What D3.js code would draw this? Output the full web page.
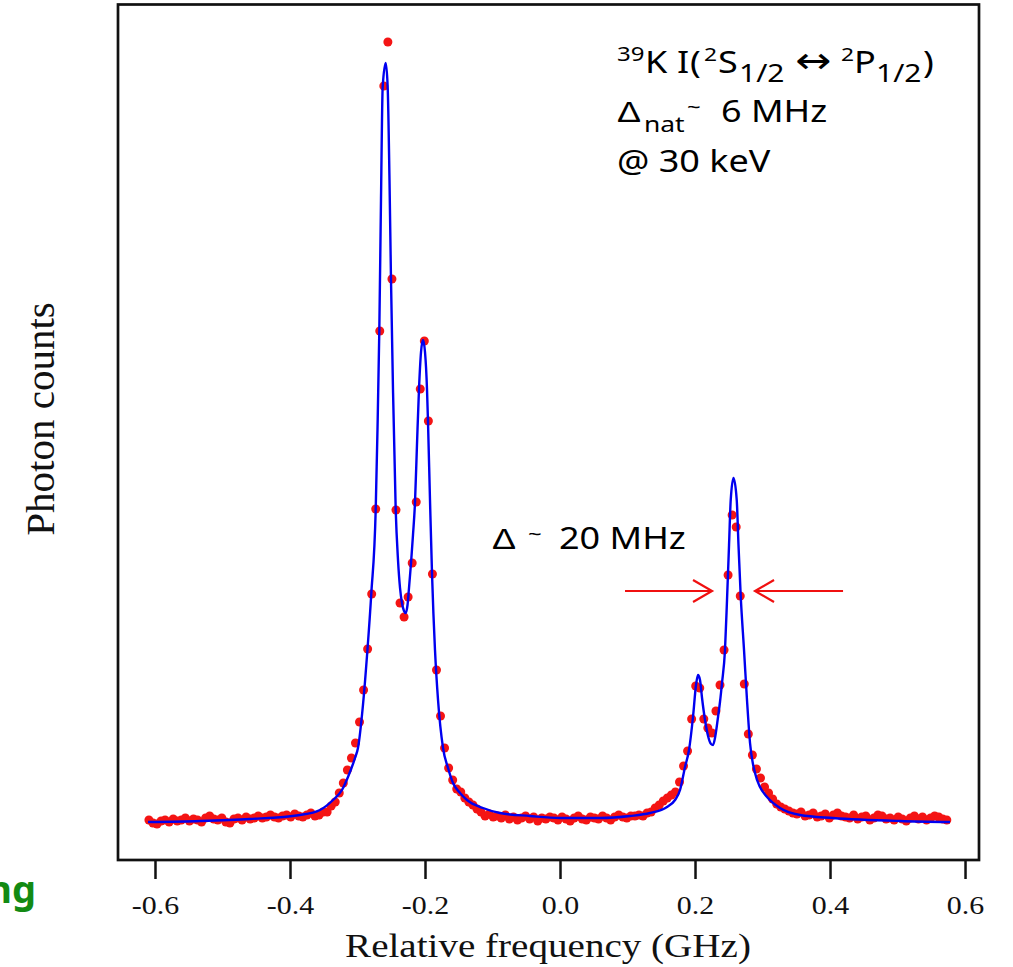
<!DOCTYPE html>
<html>
<head>
<meta charset="utf-8">
<script src="https://cdn.jsdelivr.net/npm/d3@7"></script>
<style>
body { margin: 0; background: white; }
</style>
</head>
<body>
<div id="chart"></div>
<script>
//measured points (relative frequency in GHz, photon counts)
var freq = [
  -0.609, -0.603, -0.597, -0.591, -0.585, -0.579, -0.573, -0.567, -0.561, -0.555,
  -0.549, -0.543, -0.537, -0.531, -0.525, -0.519, -0.513, -0.507, -0.501, -0.495,
  -0.489, -0.483, -0.477, -0.471, -0.465, -0.459, -0.453, -0.447, -0.441, -0.435,
  -0.429, -0.423, -0.417, -0.411, -0.405, -0.399, -0.393, -0.387, -0.381, -0.375,
  -0.369, -0.363, -0.357, -0.351, -0.345, -0.339, -0.333, -0.327, -0.321, -0.315,
  -0.309, -0.303, -0.297, -0.291, -0.285, -0.279, -0.273, -0.267, -0.261, -0.255,
  -0.249, -0.243, -0.237, -0.231, -0.225, -0.219, -0.213, -0.207, -0.201, -0.195,
  -0.189, -0.183, -0.177, -0.171, -0.165, -0.159, -0.153, -0.147, -0.141, -0.135,
  -0.129, -0.123, -0.117, -0.111, -0.105, -0.099, -0.093, -0.087, -0.081, -0.075,
  -0.069, -0.063, -0.057, -0.051, -0.045, -0.039, -0.033, -0.027, -0.021, -0.015,
  -0.009, -0.003, 0.003, 0.009, 0.015, 0.021, 0.027, 0.033, 0.039, 0.045,
  0.051, 0.057, 0.063, 0.069, 0.075, 0.081, 0.087, 0.093, 0.099, 0.105,
  0.111, 0.117, 0.123, 0.129, 0.135, 0.141, 0.147, 0.153, 0.159, 0.165,
  0.171, 0.177, 0.183, 0.189, 0.195, 0.201, 0.207, 0.213, 0.219, 0.225,
  0.231, 0.237, 0.243, 0.249, 0.255, 0.261, 0.267, 0.273, 0.279, 0.285,
  0.291, 0.297, 0.303, 0.309, 0.315, 0.321, 0.327, 0.333, 0.339, 0.345,
  0.351, 0.357, 0.363, 0.369, 0.375, 0.381, 0.387, 0.393, 0.399, 0.405,
  0.411, 0.417, 0.423, 0.429, 0.435, 0.441, 0.447, 0.453, 0.459, 0.465,
  0.471, 0.477, 0.483, 0.489, 0.495, 0.501, 0.507, 0.513, 0.519, 0.525,
  0.531, 0.537, 0.543, 0.549, 0.555, 0.561, 0.567, 0.573
];
var counts = [
  40, 37, 36, 39, 40, 38, 41, 39, 40, 42,
  39, 41, 40, 38, 42, 44, 41, 40, 42, 38,
  37, 41, 42, 40, 43, 41, 42, 44, 42, 43,
  45, 43, 42, 44, 45, 43, 46, 44, 43, 45,
  47, 44, 45, 48, 48, 54, 58, 67, 77, 90,
  102, 117, 138, 170, 211, 266, 351, 529, 774, 818,
  581, 350, 257, 243, 263, 297, 358, 471, 519, 439,
  286, 190, 144, 112, 92, 80, 71, 68, 62, 58,
  55, 51, 48, 44, 46, 43, 44, 42, 45, 41,
  43, 40, 42, 44, 41, 43, 39, 42, 41, 43,
  42, 40, 43, 41, 39, 42, 44, 41, 40, 43,
  42, 41, 44, 42, 40, 43, 45, 43, 42, 44,
  44, 45, 44, 47, 48, 52, 55, 59, 62, 65,
  68, 78, 94, 109, 141, 174, 172, 141, 132, 127,
  149, 175, 210, 285, 345, 333, 264, 176, 126, 105,
  91, 82, 73, 67, 61, 56, 53, 51, 49, 47,
  46, 48, 44, 45, 47, 43, 44, 46, 42, 45,
  47, 44, 43, 42, 45, 41, 43, 44, 40, 42,
  45, 44, 41, 42, 40, 43, 41, 39, 42, 44,
  41, 43, 40, 42, 44, 43, 41, 40
];

//fitted profile
var fitFreq = [
  -0.6104, -0.5333, -0.4593, -0.3852, -0.3556, -0.3363, -0.3230, -0.3141, -0.3037, -0.2993,
  -0.2919, -0.2855, -0.2796, -0.2730, -0.2704, -0.2677, -0.2652, -0.2627, -0.2582, -0.2553,
  -0.2526, -0.2504, -0.2474, -0.2434, -0.2400, -0.2370, -0.2341, -0.2311, -0.2286, -0.2259,
  -0.2237, -0.2207, -0.2178, -0.2148, -0.2119, -0.2089, -0.2059, -0.2030, -0.2000, -0.1970,
  -0.1956, -0.1926, -0.1896, -0.1852, -0.1807, -0.1733, -0.1659, -0.1585, -0.1481, -0.1378,
  -0.1141, -0.0889, -0.0444, 0.0000, 0.0593, 0.1037, 0.1333, 0.1585, 0.1704, 0.1778,
  0.1852, 0.1911, 0.1970, 0.2015, 0.2044, 0.2074, 0.2104, 0.2148, 0.2193, 0.2237,
  0.2267, 0.2296, 0.2341, 0.2370, 0.2400, 0.2444, 0.2474, 0.2504, 0.2529, 0.2570,
  0.2618, 0.2644, 0.2677, 0.2726, 0.2770, 0.2815, 0.2889, 0.2963, 0.3067, 0.3259,
  0.3556, 0.4044, 0.5037, 0.5778
];
var fitCounts = [
  38, 39, 41, 45, 50, 60, 70, 83, 102, 112,
  155, 208, 266, 351, 430, 529, 660, 773, 797, 773,
  680, 581, 470, 350, 300, 272, 257, 249, 247, 255,
  272, 297, 325, 358, 415, 471, 508, 520, 508, 470,
  439, 360, 286, 210, 160, 112, 92, 77, 67, 60,
  52, 47, 44, 42, 42, 44, 47, 53, 60, 70,
  93, 110, 143, 175, 185, 180, 162, 140, 124, 116,
  115, 122, 143, 158, 177, 210, 260, 315, 360, 382,
  360, 315, 264, 210, 160, 117, 87, 73, 63, 52,
  45, 42, 39, 38
];

var tickVals = [-0.6, -0.4, -0.2, 0, 0.2, 0.4, 0.6];
//

//general setup
var width = 1013,
    height = 967;

var plotLeft = 118,
    plotRight = 979,
    plotTop = 4,
    plotBottom = 860;

var serif = "'Liberation Serif', 'Times New Roman', serif",
    sans = "'Noto Sans', 'Open Sans', sans-serif",
    stretch = 1.15,
    noteStretch = 1.2;

var svg = d3.select("#chart").append("svg")
    .attr("width", width)
    .attr("height", height)
    .style("background", "white");

var x = d3.scaleLinear()
    .domain([-0.6548, 0.6207])
    .range([plotLeft, plotRight]);

var y = d3.scaleLinear()
    .domain([0, 856])
    .range([plotBottom, plotTop]);
//

//data points
svg.append("g")
    .selectAll("circle")
    .data(freq)
    .join("circle")
    .attr("cx", function(d) { return x(d); })
    .attr("cy", function(d, i) { return y(counts[i]); })
    .attr("r", 4.5)
    .style("fill", "#f41414");

//fit line
var fit = fitFreq.map(function(f, i) { return [f, fitCounts[i]]; });

svg.append("path")
    .datum(fit)
    .attr("d", d3.line()
        .x(function(d) { return x(d[0]); })
        .y(function(d) { return y(d[1]); })
        .curve(d3.curveMonotoneX))
    .style("fill", "none")
    .style("stroke", "#0000f0")
    .style("stroke-width", 2.4);
//

//frame and x axis
svg.append("rect")
    .attr("x", plotLeft)
    .attr("y", plotTop + 0.5)
    .attr("width", plotRight - plotLeft)
    .attr("height", plotBottom - plotTop - 0.5)
    .style("fill", "none")
    .style("stroke", "#111")
    .style("stroke-width", 2.7);

var xAxis = d3.axisBottom(x)
    .tickValues(tickVals)
    .tickSize(19)
    .tickFormat(function(d) { return d.toFixed(1); });

var axisG = svg.append("g")
    .attr("transform", "translate(0," + plotBottom + ")")
    .call(xAxis);

axisG.select(".domain").remove();
axisG.selectAll(".tick line")
    .style("stroke", "#111")
    .style("stroke-width", 2.5);
axisG.selectAll(".tick text")
    .attr("y", 54)
    .attr("dy", 0)
    .attr("transform", "scale(" + stretch + ",1)")
    .style("font-family", serif)
    .style("font-size", "26px")
    .style("fill", "#111");

svg.append("text")
    .attr("transform", "translate(548,957) scale(" + stretch + ",1)")
    .attr("text-anchor", "middle")
    .text("Relative frequency (GHz)")
    .style("font-family", serif)
    .style("font-size", "34px")
    .style("fill", "#111");

svg.append("text")
    .attr("transform", "translate(54,419) rotate(-90)")
    .attr("text-anchor", "middle")
    .text("Photon counts")
    .style("font-family", serif)
    .style("font-size", "41px")
    .style("fill", "#111");
//

//annotations
function addLine(x0, yBase, segs) {
    var t = svg.append("text")
        .attr("transform", "translate(" + x0 + "," + yBase + ") scale(" + noteStretch + ",1)")
        .style("font-family", sans)
        .style("fill", "#000");
    segs.forEach(function(s) {
        t.append("tspan")
            .attr("x", (s.x - x0) / noteStretch)
            .attr("y", s.y || 0)
            .style("font-size", (s.size || 30) + "px")
            .style("font-family", s.font || sans)
            .text(s.t);
    });
}

addLine(618, 73, [
    { t: "39", x: 617, y: -12, size: 20 },
    { t: "K", x: 645 },
    { t: "I", x: 677 },
    { t: "(", x: 690 },
    { t: "2", x: 704, y: -12, size: 19 },
    { t: "S", x: 718 },
    { t: "1/2", x: 739, y: 9, size: 25 },
    { t: "\u2194", x: 795, font: "'DejaVu Sans', sans-serif", size: 36 },
    { t: "2", x: 841, y: -12, size: 19 },
    { t: "P", x: 854 },
    { t: "1/2", x: 876, y: 9, size: 25 },
    { t: ")", x: 923 }
]);

addLine(618, 122, [
    { t: "\u0394", x: 617, font: "'Liberation Sans', sans-serif" },
    { t: "nat", x: 644, y: 10, size: 22 },
    { t: "~", x: 687, y: -8, size: 20 },
    { t: "6 MHz", x: 721 }
]);

addLine(618, 172, [
    { t: "@ 30 keV", x: 617 }
]);

addLine(492, 549, [
    { t: "\u0394", x: 492, font: "'Liberation Sans', sans-serif" },
    { t: "~", x: 528, y: -8, size: 20 },
    { t: "20 MHz", x: 559 }
]);

//width arrows
var arrowY = y(269);
function arrow(fromF, toF) {
    var x1 = x(fromF), x2 = x(toF),
        dir = x2 > x1 ? 1 : -1;
    var a = svg.append("g")
        .style("stroke", "#f01010")
        .style("stroke-width", 2.2)
        .style("fill", "none");
    a.append("line")
        .attr("x1", x1).attr("y1", arrowY)
        .attr("x2", x2).attr("y2", arrowY);
    a.append("path")
        .attr("d", "M" + (x2 - dir * 19) + "," + (arrowY - 11) + "L" + x2 + "," + arrowY + "L" + (x2 - dir * 19) + "," + (arrowY + 11));
}
arrow(0.0963, 0.2252);
arrow(0.4193, 0.2889);

//cut off label at the left edge
svg.append("text")
    .attr("x", 36)
    .attr("y", 903)
    .attr("text-anchor", "end")
    .text("ng")
    .style("font-family", sans)
    .style("font-weight", "bold")
    .style("font-size", "38px")
    .style("fill", "#138a13");
</script>
</body>
</html>
